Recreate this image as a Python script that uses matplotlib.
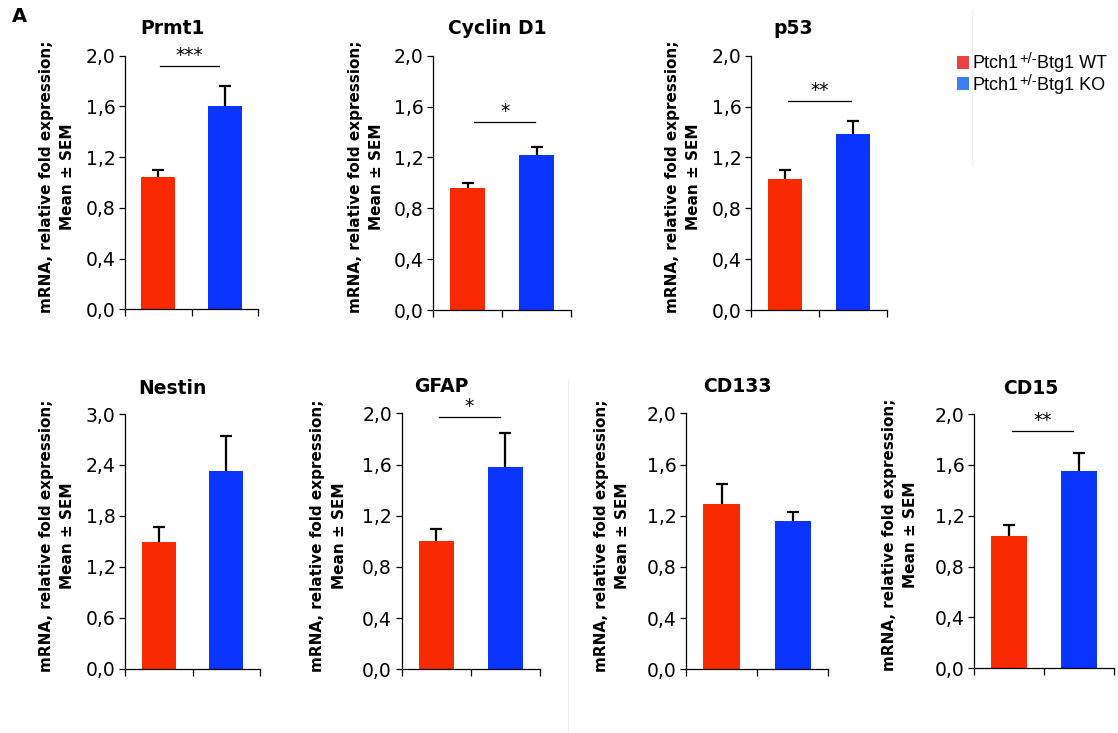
import numpy as np
import matplotlib
matplotlib.use("Agg")
import matplotlib.pyplot as plt
from matplotlib.patches import Rectangle
from matplotlib.text import Annotation

W, H = 1118, 733

# ---- data (mean, SEM) : WT first, KO second ----
GENES = ["Prmt1", "Cyclin D1", "p53", "Nestin", "GFAP", "CD133", "CD15"]
WT_MEAN = [1.04, 0.957, 1.03, 1.49, 1.00, 1.29, 1.043]
WT_SEM = [0.06, 0.044, 0.068, 0.177, 0.097, 0.154, 0.084]
KO_MEAN = [1.606, 1.219, 1.384, 2.33, 1.583, 1.159, 1.554]
KO_SEM = [0.157, 0.065, 0.102, 0.415, 0.265, 0.072, 0.137]
YMAX = [2.0, 2.0, 2.0, 3.0, 2.0, 2.0, 2.0]
YSTEP = [0.4, 0.4, 0.4, 0.6, 0.4, 0.4, 0.4]
SIG = ["***", "*", "**", "", "*", "", "**"]
SIG_Y = [1.92, 1.48, 1.646, None, 1.97, None, 1.87]
GROUPS = ["WT", "KO"]
YLABEL = "mRNA, relative fold expression;\nMean ± SEM"

RED, BLUE = "#FA2A00", "#0A34FF"
LEG_COLORS = ["#E84340", "#3D7EF5"]

# panel boxes in pixels: left, right, y of top tick, y of zero; title centre x,y; ylabel offset
BOX = [(125, 258, 55.7, 309.3, 172, 29, 68),
       (433, 571, 55.7, 310, 497, 29, 67),
       (751, 887, 55.7, 310, 793, 29, 68),
       (125, 260, 414, 668.7, 172, 388, 68),
       (401.7, 540, 413.3, 669.3, 441, 386, 73),
       (686, 828.3, 413.3, 669.3, 737, 386, 74),
       (974, 1114, 414, 668.3, 1031, 388, 74)]
SIG_X = [(0.52, 1.42), (0.60, 1.48), (0.55, 1.47), None, (0.54, 1.42), None, (0.54, 1.41)]

plt.rcParams.update({"font.family": "DejaVu Sans", "axes.linewidth": 0.9,
                     "xtick.major.width": 0.9, "ytick.major.width": 0.9})

fig = plt.figure(figsize=(W / 100, H / 100), dpi=100)

for i, g in enumerate(GENES):
    l, r, yt, y0, tx, ty, off = BOX[i]
    ax = fig.add_axes([l / W, 1 - y0 / H, (r - l) / W, (y0 - yt) / H])
    xs = [0.5, 1.5]
    means = [WT_MEAN[i], KO_MEAN[i]]
    tops = [WT_MEAN[i] + WT_SEM[i], KO_MEAN[i] + KO_SEM[i]]
    ax.bar(xs, means, width=0.51, color=[RED, BLUE], zorder=2)
    # upper-only SEM bars
    ax.vlines(xs, means, tops, color="black", lw=1.6, zorder=3)
    ax.plot(xs, tops, ls="none", marker="_", ms=8, mew=1.6, color="black", zorder=3,
            clip_on=False)
    ax.set_xlim(0, 2)
    ax.set_ylim(0, YMAX[i])
    yt_vals = np.arange(0, YMAX[i] + 1e-9, YSTEP[i])
    ax.set_yticks(yt_vals)
    ax.set_yticklabels([f"{v:.1f}".replace(".", ",") for v in yt_vals], fontsize=13.5)
    ax.set_xticks([0, 1, 2])
    ax.set_xticklabels([])
    ax.tick_params(axis="y", length=4, pad=3)
    ax.tick_params(axis="x", length=5)
    for s in ("top", "right"):
        ax.spines[s].set_visible(False)
    ax.patch.set_alpha(0)
    if SIG[i]:
        x1, x2 = SIG_X[i]
        ax.plot([x1, x2], [SIG_Y[i], SIG_Y[i]], color="black", lw=0.9, clip_on=False)
        ax.annotate(SIG[i], ((x1 + x2) / 2, SIG_Y[i]), xytext=(0, 0.5),
                    textcoords="offset points", ha="center", va="bottom",
                    fontsize=13.5, annotation_clip=False)
    fig.text(tx / W, 1 - ty / H, g, ha="center", va="center", fontsize=13.5,
             fontweight="bold")
    fig.text((l - off) / W, 1 - ((yt + y0) / 2 - 6) / H, YLABEL, rotation=90,
             ha="center", va="center", multialignment="center", fontsize=11,
             fontweight="bold", linespacing=1.55)

fig.text(12 / W, 1 - 17 / H, "A", ha="left", va="center", fontsize=14, fontweight="bold")

# faint separators from the source figure
fig.add_artist(plt.Line2D([568 / W, 568 / W], [1 - 380 / H, 0], color="#eeeeee", lw=0.8))
fig.add_artist(plt.Line2D([972 / W, 972 / W], [1 - 10 / H, 1 - 165 / H], color="#f2f2f2", lw=0.8))

# legend: square + "Ptch1^{+/-}Btg1 <group>" built from chained text pieces
LEG = dict(family="Liberation Sans", color="black")
for k, grp in enumerate(GROUPS):
    ytop = 56 + k * 21.3
    fig.add_artist(Rectangle((956.5 / W, 1 - (ytop + 12.5) / H), 12.5 / W, 12.5 / H,
                             transform=fig.transFigure, facecolor=LEG_COLORS[k],
                             edgecolor="none"))
    t1 = fig.text(972 / W, 1 - (ytop + 12.5) / H, "Ptch1", ha="left", va="baseline",
                  fontsize=13, **LEG)
    t2 = Annotation("+/-", xy=(1, 0.78), xycoords=t1, xytext=(0.8, 0),
                    textcoords="offset points", ha="left", va="center",
                    fontsize=10.5, annotation_clip=False, **LEG)
    fig.add_artist(t2)
    t3 = Annotation(f"Btg1 {grp}", xy=(1, 0), xycoords=(t2, t1), xytext=(0.3, 0),
                    textcoords="offset points", ha="left", va="bottom",
                    fontsize=13, annotation_clip=False, **LEG)
    fig.add_artist(t3)

fig.savefig("out.png", dpi=100)
